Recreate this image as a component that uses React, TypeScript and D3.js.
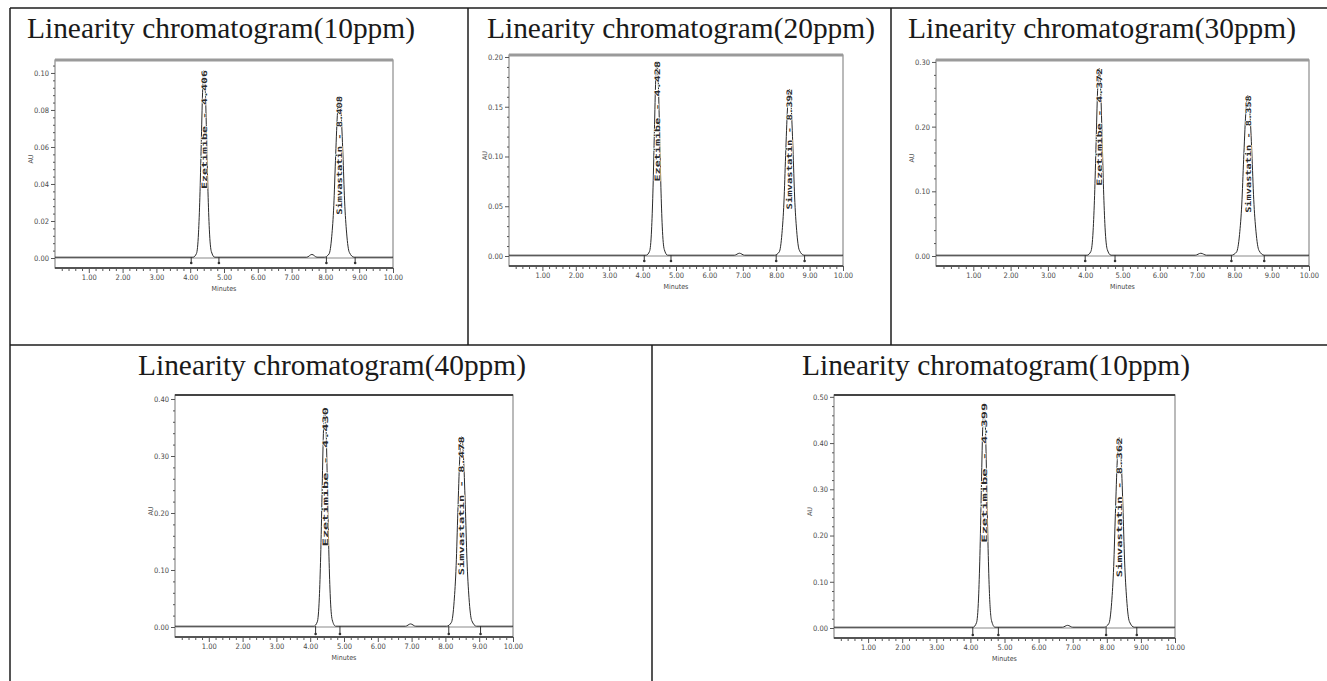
import React, { useRef, useEffect } from 'react';
import * as d3 from 'd3';

// titles of the five cells
const chartTitles = [
  'Linearity chromatogram(10ppm)',
  'Linearity chromatogram(20ppm)',
  'Linearity chromatogram(30ppm)',
  'Linearity chromatogram(40ppm)',
  'Linearity chromatogram(10ppm)',
];

const yTickValues = [
  [0, 0.02, 0.04, 0.06, 0.08, 0.1],
  [0, 0.05, 0.1, 0.15, 0.2],
  [0, 0.1, 0.2, 0.3],
  [0, 0.1, 0.2, 0.3, 0.4],
  [0, 0.1, 0.2, 0.3, 0.4, 0.5],
];
const yTopValues = [0.107, 0.202, 0.303, 0.407, 0.504];
const xTickValues = [1, 2, 3, 4, 5, 6, 7, 8, 9, 10];

const peakNames = ['Ezetimibe', 'Simvastatin'];
const retentionTimes = [
  [4.406, 8.408],
  [4.428, 8.392],
  [4.372, 8.358],
  [4.43, 8.478],
  [4.399, 8.362],
];
const peakHeights = [
  [0.101, 0.087],
  [0.195, 0.167],
  [0.289, 0.247],
  [0.384, 0.333],
  [0.485, 0.41],
];
const integrationStart = [
  [4.03, 8.03],
  [4.05, 8.0],
  [4.0, 7.92],
  [4.16, 8.1],
  [4.07, 7.98],
];
const integrationEnd = [
  [4.85, 8.88],
  [4.85, 8.85],
  [4.8, 8.8],
  [4.88, 9.04],
  [4.82, 8.88],
];

// small baseline disturbance
const bumpTimes = [7.6, 6.9, 7.1, 6.97, 6.85];
const bumpHeights = [0.0015, 0.002, 0.003, 0.004, 0.004];

// peak profile (minutes from apex, fraction of height)
const peak1Offsets = [-0.32, -0.22, -0.16, -0.12, -0.08, -0.04, 0, 0.04, 0.08, 0.12, 0.16, 0.22, 0.32];
const peak2Offsets = [-0.44, -0.3, -0.22, -0.16, -0.11, -0.055, 0, 0.055, 0.11, 0.16, 0.22, 0.3, 0.44];
const profileFractions = [0, 0.02, 0.13, 0.32, 0.6, 0.88, 1, 0.9, 0.64, 0.35, 0.15, 0.03, 0];

const panels = [
  { left: 55, right: 393, top: 60, zero: 258, tx: 27, ty: 38, anchor: 'start', dark: false },
  { left: 509, right: 843, top: 55, zero: 256, tx: 487, ty: 38, anchor: 'start', dark: false },
  { left: 936, right: 1309, top: 60, zero: 256, tx: 908, ty: 38, anchor: 'start', dark: false },
  { left: 175, right: 513, top: 395, zero: 627, tx: 332, ty: 375, anchor: 'middle', dark: true },
  { left: 834, right: 1175, top: 395, zero: 628, tx: 996, ty: 375, anchor: 'middle', dark: true },
];

export default function App() {
  const svgRef = useRef<SVGSVGElement>(null);
  const width = 1327;
  const height = 681;

  useEffect(() => {
    const svg = d3.select(svgRef.current);
    svg.selectAll('*').remove();

    svg.append('rect').attr('width', width).attr('height', height).attr('fill', '#fff');

    // table grid
    const grid = svg.append('g').attr('stroke', '#1c1c1c').attr('stroke-width', 1.5);
    grid.append('line').attr('x1', 10).attr('x2', width).attr('y1', 8).attr('y2', 8);
    grid.append('line').attr('x1', 10).attr('x2', 10).attr('y1', 8).attr('y2', height);
    grid.append('line').attr('x1', 10).attr('x2', width).attr('y1', 345).attr('y2', 345);
    grid.append('line').attr('x1', 468).attr('x2', 468).attr('y1', 8).attr('y2', 345);
    grid.append('line').attr('x1', 891).attr('x2', 891).attr('y1', 8).attr('y2', 345);
    grid.append('line').attr('x1', 652).attr('x2', 652).attr('y1', 345).attr('y2', height);

    const fmt = d3.format('.2f');
    const minorX = d3.range(1, 50).map(k => k / 5).filter(v => !Number.isInteger(v));

    panels.forEach((p, i) => {
      const x = d3.scaleLinear().domain([0, 10]).range([p.left, p.right]);
      const y = d3.scaleLinear().domain([0, yTopValues[i]]).range([p.zero, p.top]);
      const axisY = p.zero + 10;
      const g = svg.append('g');

      // title
      g.append('text')
        .attr('x', p.tx)
        .attr('y', p.ty)
        .attr('text-anchor', p.anchor)
        .attr('font-family', '"Liberation Serif", "Times New Roman", serif')
        .attr('font-size', 30)
        .attr('textLength', 388)
        .attr('lengthAdjust', 'spacingAndGlyphs')
        .attr('fill', '#1a1a1a')
        .text(chartTitles[i]);

      // plot frame
      g.append('rect')
        .attr('x', p.left)
        .attr('y', p.top)
        .attr('width', p.right - p.left)
        .attr('height', axisY - p.top)
        .attr('fill', 'none')
        .attr('stroke', '#8c8c8c')
        .attr('stroke-width', 1.2);
      g.append('line')
        .attr('x1', p.left).attr('x2', p.right)
        .attr('y1', p.top).attr('y2', p.top)
        .attr('stroke', p.dark ? '#444' : '#9a9a9a')
        .attr('stroke-width', p.dark ? 2 : 3);
      g.append('line')
        .attr('x1', p.left).attr('x2', p.right)
        .attr('y1', axisY).attr('y2', axisY)
        .attr('stroke', '#333')
        .attr('stroke-width', 1.5);

      // axes
      const styleAxis = (s: any) => {
        s.select('.domain').remove();
        s.selectAll('line').attr('stroke', '#555');
        s.selectAll('text')
          .attr('font-family', '"DejaVu Sans Condensed", "DejaVu Sans", sans-serif')
          .attr('font-size', 7.5)
          .attr('fill', '#4a4a4a');
      };
      g.append('g')
        .attr('transform', `translate(0,${axisY})`)
        .call(d3.axisBottom(x).tickValues(xTickValues).tickFormat(d => fmt(d as number)).tickSize(5).tickPadding(2))
        .call(styleAxis);
      g.append('g')
        .attr('transform', `translate(0,${axisY})`)
        .call(d3.axisBottom(x).tickValues(minorX).tickFormat(() => '').tickSize(3))
        .call(styleAxis);

      const yt = yTickValues[i];
      const major = yt[1] - yt[0];
      const step = major / 5;
      const minorY = d3.range(1, Math.round(yTopValues[i] / step) + 1)
        .map(k => k * step)
        .filter(v => v <= yTopValues[i] && Math.abs(v / major - Math.round(v / major)) > 1e-6);
      g.append('g')
        .attr('transform', `translate(${p.left},0)`)
        .call(d3.axisLeft(y).tickValues(yt).tickFormat(d => fmt(d as number)).tickSize(4).tickPadding(2))
        .call(styleAxis);
      g.append('g')
        .attr('transform', `translate(${p.left},0)`)
        .call(d3.axisLeft(y).tickValues(minorY).tickFormat(() => '').tickSize(2))
        .call(styleAxis);

      g.append('text')
        .attr('x', (p.left + p.right) / 2)
        .attr('y', axisY + 23)
        .attr('text-anchor', 'middle')
        .attr('font-family', '"DejaVu Sans Condensed", "DejaVu Sans", sans-serif')
        .attr('font-size', 7)
        .attr('fill', '#444')
        .text('Minutes');
      g.append('text')
        .attr('transform', `translate(${p.left - 22},${(p.top + p.zero) / 2}) rotate(-90)`)
        .attr('text-anchor', 'middle')
        .attr('font-family', '"DejaVu Sans", sans-serif')
        .attr('font-size', 6.5)
        .attr('fill', '#555')
        .text('AU');

      // drawn baseline
      g.append('line')
        .attr('x1', p.left).attr('x2', p.right)
        .attr('y1', y(0)).attr('y2', y(0))
        .attr('stroke', '#8a8a8a')
        .attr('stroke-width', 1.2);

      // trace
      const pts: [number, number][] = [[0, 0], [10, 0]];
      const bt = bumpTimes[i];
      pts.push([bt - 0.15, 0], [bt, bumpHeights[i]], [bt + 0.15, 0]);
      retentionTimes[i].forEach((t, k) => {
        const offs = k === 0 ? peak1Offsets : peak2Offsets;
        offs.forEach((o, j) => pts.push([t + o, profileFractions[j] * peakHeights[i][k]]));
      });
      pts.sort((a, b) => a[0] - b[0]);
      const line = d3.line<[number, number]>()
        .x(d => x(d[0]))
        .y(d => y(d[1]) - 0.8)
        .curve(d3.curveMonotoneX);
      g.append('path')
        .attr('d', line(pts))
        .attr('fill', 'none')
        .attr('stroke', '#2a2a2a')
        .attr('stroke-width', 1);

      // integration marks
      retentionTimes[i].forEach((_, k) => {
        [integrationStart[i][k], integrationEnd[i][k]].forEach(t => {
          g.append('line')
            .attr('x1', x(t)).attr('x2', x(t))
            .attr('y1', y(0) - 1).attr('y2', y(0) + (p.dark ? 7 : 5))
            .attr('stroke', '#333')
            .attr('stroke-width', 1);
          g.append('circle')
            .attr('cx', x(t))
            .attr('cy', y(0) + (p.dark ? 7 : 5))
            .attr('r', 1.3)
            .attr('fill', '#333');
        });
      });

      // peak labels
      const labelLen = 0.6 * (p.zero - p.top);
      retentionTimes[i].forEach((t, k) => {
        g.append('text')
          .attr('transform', `translate(${x(t) + 2.8},${y(peakHeights[i][k]) - 1}) rotate(-90)`)
          .attr('text-anchor', 'end')
          .attr('font-family', '"DejaVu Sans Mono", monospace')
          .attr('font-weight', 'bold')
          .attr('font-size', 7.5)
          .attr('textLength', labelLen)
          .attr('lengthAdjust', 'spacingAndGlyphs')
          .attr('fill', '#2a2a2a')
          .attr('stroke', '#fff')
          .attr('stroke-width', 1)
          .attr('paint-order', 'stroke')
          .text(`${peakNames[k]} - ${t.toFixed(3)}`);
      });
    });
  }, []);

  return (
    <svg
      ref={svgRef}
      width={width}
      height={height}
      style={{ position: 'absolute', left: 0, top: 0, display: 'block' }}
    />
  );
}
